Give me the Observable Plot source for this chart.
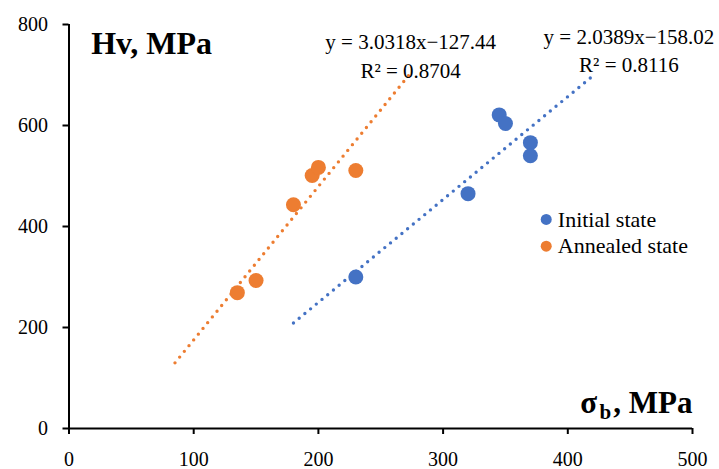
<!DOCTYPE html>
<html><head><meta charset="utf-8">
<script src="https://cdn.jsdelivr.net/npm/d3@7"></script>
<script src="https://cdn.jsdelivr.net/npm/@observablehq/plot@0.6"></script>
<style>body{margin:0;background:#fff}</style>
</head><body><div id="chart"></div>
<script>
const xTicks = [0, 100, 200, 300, 400, 500];
const yTicks = [0, 200, 400, 600, 800];
const series = ["Initial state", "Annealed state"];
const colors = ["#4472C4", "#ED7D31"];
const initialX = [230, 320, 345, 350, 370, 370];
const initialY = [300, 465, 621, 604, 566, 540];
const annealedX = [135, 150, 180, 195, 200, 230];
const annealedY = [269, 293, 443, 501, 517, 511];
// trend line endpoints (as drawn)
const initialTrendX = [180, 420];
const initialTrendY = [209, 698];
const annealedTrendX = [85, 275];
const annealedTrendY = [130, 707];
// equation labels
const eqText = ["y = 2.0389x\u2212158.02", "R\u00b2 = 0.8116", "y = 3.0318x\u2212127.44", "R\u00b2 = 0.8704"];
const eqX = [449, 449, 274, 274];
const eqY = [762, 705, 752, 695];
// legend positions
const legX = [382.7, 382.7];
const legY = [414, 361];
const legTextX = [392, 392];
const legTextY = [400, 348.5];

const pts = [
  ...initialX.map((x, i) => ({x, y: initialY[i], s: series[0]})),
  ...annealedX.map((x, i) => ({x, y: annealedY[i], s: series[1]}))
];
const trends = [
  ...initialTrendX.map((x, i) => ({x, y: initialTrendY[i], s: series[0]})),
  ...annealedTrendX.map((x, i) => ({x, y: annealedTrendY[i], s: series[1]}))
];
const eqs = eqText.map((t, i) => ({t, x: eqX[i], y: eqY[i]}));
const leg = series.map((s, i) => ({s, x: legX[i], y: legY[i], tx: legTextX[i], ty: legTextY[i]}));
const FONT = '"Liberation Serif", "Times New Roman", serif';

const chart = Plot.plot({
  width: 719, height: 469,
  marginLeft: 68.5, marginRight: 27, marginTop: 24, marginBottom: 41,
  x: {domain: [0, 500]},
  y: {domain: [0, 800]},
  color: {domain: series, range: colors},
  style: {fontFamily: FONT, fontSize: "20px", color: "#000", background: "#fff", overflow: "visible"},
  marks: [
    Plot.axisX({ticks: xTicks, tickSize: 6, tickPadding: 17, strokeWidth: 2, label: null, fontSize: 20}),
    Plot.axisY({ticks: yTicks, tickSize: 6, tickPadding: 15, strokeWidth: 2, label: null, fontSize: 20}),
    Plot.ruleX([0], {strokeWidth: 2, stroke: "#000"}),
    Plot.ruleY([0], {strokeWidth: 2, stroke: "#000"}),
    Plot.line(trends, {x: "x", y: "y", z: "s", stroke: "s", strokeWidth: 3.4, strokeDasharray: "0,7.4", strokeLinecap: "round"}),
    Plot.dot(pts, {x: "x", y: "y", fill: "s", r: 7.5}),
    Plot.text(eqs, {x: "x", y: "y", text: "t", textAnchor: "middle", lineAnchor: "bottom", fontSize: 21, fill: "#000"}),
    Plot.dot(leg, {x: "x", y: "y", fill: "s", r: 5.5}),
    Plot.text(leg, {x: "tx", y: "ty", text: "s", textAnchor: "start", lineAnchor: "bottom", fontSize: 22, fill: "#000"}),
    Plot.text(["Hv, MPa"], {x: 17.8, y: 742, textAnchor: "start", lineAnchor: "bottom", fontSize: 32, fontWeight: "bold", fill: "#000"}),
    Plot.text(["\u03c3"], {x: 410, y: 31.5, textAnchor: "start", lineAnchor: "bottom", fontSize: 31, fontWeight: "bold", fill: "#000"}),
    Plot.text(["b"], {x: 425.5, y: 19, textAnchor: "start", lineAnchor: "bottom", fontSize: 21, fontWeight: "bold", fill: "#000"}),
    Plot.text([", MPa"], {x: 500, y: 31.5, textAnchor: "end", lineAnchor: "bottom", fontSize: 31, fontWeight: "bold", fill: "#000"})
  ]
});
d3.select(chart).selectAll("text").style("font-family", FONT);
d3.select(chart).selectAll("g[aria-label$='tick label']").attr("font-size", 20).attr("font-variant", null);
document.getElementById("chart").append(chart);
</script>
</body></html>
